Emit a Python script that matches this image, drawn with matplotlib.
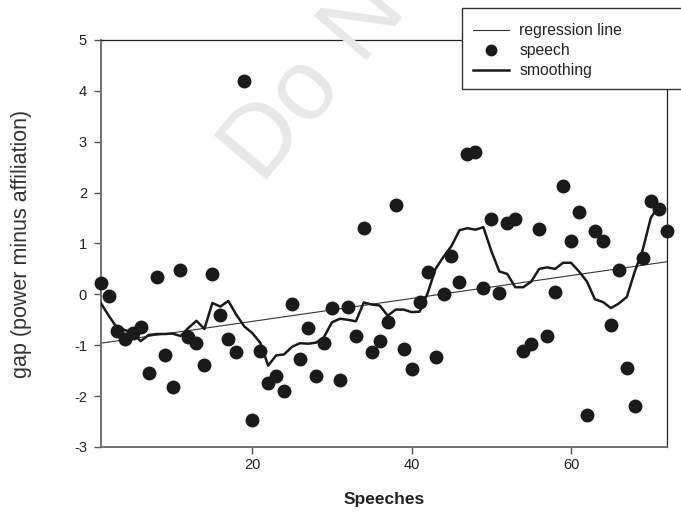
import numpy as np
import matplotlib
matplotlib.use('Agg')
import matplotlib.pyplot as plt
from matplotlib.lines import Line2D
from matplotlib.patches import Rectangle

plt.rcParams['font.family'] = ['Liberation Sans', 'DejaVu Sans']
plt.rcParams['axes.unicode_minus'] = False

# speech number and gap value
speech = np.arange(1, 73)
gap = [0.23, -0.04, -0.73, -0.87, -0.76, -0.65, -1.55, 0.34, -1.20, -1.83,
       0.47, -0.84, -0.96, -1.39, 0.40, -0.40, -0.87, -1.14, 4.19, -2.47,
       -1.12, -1.74, -1.60, -1.90, -0.19, -1.27, -0.66, -1.61, -0.96, -0.27,
       -1.69, -0.25, -0.82, 1.30, -1.14, -0.91, -0.54, 1.76, -1.08, -1.47,
       -0.16, 0.44, -1.24, 0.00, 0.76, 0.25, 2.76, 2.80, 0.12, 1.49,
       0.02, 1.40, 1.48, -1.12, -0.97, 1.29, -0.82, 0.05, 2.12, 1.04,
       1.62, -2.37, 1.25, 1.04, -0.61, 0.47, -1.45, -2.19, 0.71, 1.84,
       1.67, 1.25]

# smoothed curve, one value per speech (1..71)
smooth_x = np.arange(1, 72)
smooth_y = [-0.17, -0.42, -0.65, -0.70, -0.76, -0.92, -0.80, -0.78, -0.78, -0.77,
            -0.82, -0.66, -0.52, -0.68, -0.17, -0.24, -0.13, -0.40, -0.63, -0.76,
            -0.95, -1.40, -1.20, -1.18, -1.03, -0.96, -0.97, -0.95, -0.84, -0.55,
            -0.48, -0.50, -0.53, -0.16, -0.20, -0.22, -0.42, -0.30, -0.30, -0.35,
            -0.34, 0.02, 0.50, 0.74, 0.95, 1.26, 1.30, 1.27, 1.32, 0.85,
            0.45, 0.40, 0.14, 0.14, 0.25, 0.50, 0.53, 0.50, 0.62, 0.62,
            0.45, 0.25, -0.10, -0.15, -0.27, -0.18, -0.05, 0.45, 0.88, 1.50,
            1.75]

# regression line end values
reg_x = [1, 72]
reg_y = [-0.96, 0.64]

W, H = 681, 512
fig = plt.figure(figsize=(W / 100, H / 100), dpi=100)
ax = fig.add_axes([0.148, 0.127, 0.831, 0.795])

# faint watermark
fig.text(262 / W, 1 - 186 / H, 'Do Not Copy', fontsize=72, color='#e8e8e8',
         rotation=50, rotation_mode='anchor', ha='left', va='baseline', zorder=0)

ax.plot(reg_x, reg_y, '-', color='#333333', lw=0.8, zorder=2)
ax.plot(speech, gap, 'o', color='#1a1a1a', ms=9, zorder=3, clip_on=False)
ax.plot(smooth_x, smooth_y, '-', color='#1a1a1a', lw=1.8, zorder=4)

ax.set_xlim(1, 72)
ax.set_ylim(-3, 5)
ax.set_xticks([20, 40, 60])
ax.set_yticks(range(-3, 6))
ax.patch.set_alpha(0)

for s in ['left', 'bottom']:
    ax.spines[s].set_color('#666666')
    ax.spines[s].set_linewidth(1.3)
for s in ['top', 'right']:
    ax.spines[s].set_color('#222222')
    ax.spines[s].set_linewidth(0.9)
ax.tick_params(direction='out', length=5, width=1.0, color='#555555',
               labelsize=10.5, labelcolor='#222222')
ax.tick_params(axis='x', pad=3)
ax.tick_params(axis='y', pad=5)

ax.set_ylabel('gap (power minus affiliation)', fontsize=15.5, color='#333333', labelpad=30)
ax.set_xlabel('Speeches', fontsize=12.5, fontweight='bold', color='#222222', labelpad=14)

# legend box runs past the right edge of the figure
fig.patches.append(Rectangle((462 / W, 1 - 89 / H), 240 / W, 81 / H,
                             transform=fig.transFigure, facecolor='white',
                             edgecolor='#333333', lw=1.0, zorder=9, clip_on=False))
handles = [Line2D([], [], color='#333333', lw=0.8),
           Line2D([], [], ls='none', marker='o', color='#1a1a1a', ms=7.5),
           Line2D([], [], color='#1a1a1a', lw=1.8)]
leg = fig.legend(handles, ['regression line', 'speech', 'smoothing'],
                 loc='upper left', bbox_to_anchor=(473 / W, 1 - 23 / H), fontsize=11.3,
                 frameon=False, handlelength=2.3, handletextpad=0.65,
                 labelspacing=0.32, borderpad=0, borderaxespad=0)
leg.set_zorder(10)
for t in leg.get_texts():
    t.set_color('#222222')

fig.savefig('out.png', dpi=100)
